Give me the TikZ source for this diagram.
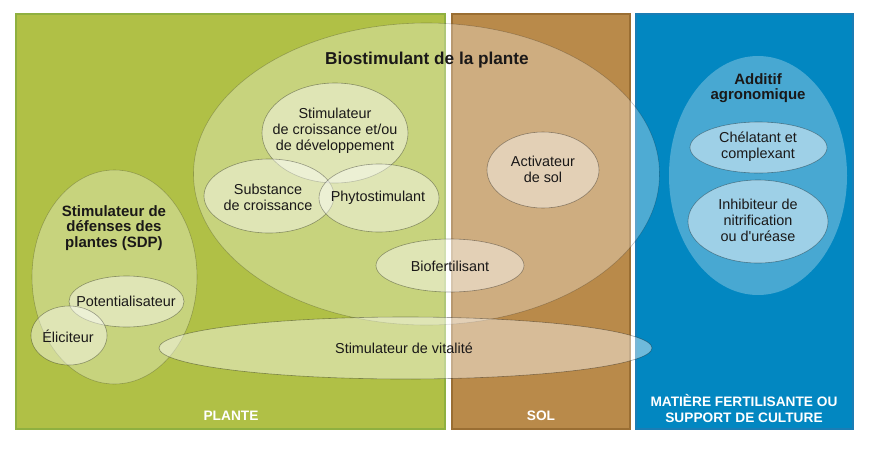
\documentclass[tikz,border=0pt]{standalone}
\usepackage{fontspec}
\setmainfont{Liberation Sans}[Ligatures=TeXOff]
\usetikzlibrary{shapes.geometric}
\definecolor{plantefill}{HTML}{B0C046}
\definecolor{planteedge}{HTML}{8FB040}
\definecolor{solfill}{HTML}{B98A4A}
\definecolor{soledge}{HTML}{9A6E33}
\definecolor{bluefill}{HTML}{0287C1}
\definecolor{blueedge}{HTML}{1A7DB5}
\definecolor{txt}{HTML}{1A1818}
\tikzset{
  zone/.style={line width=2pt},
  halo/.style={fill=white, fill opacity=0.30, draw=black, draw opacity=0.22, line width=0.6pt},
  halonb/.style={fill=white, fill opacity=0.28, draw=none},
  inner/.style={fill=white, fill opacity=0.43, draw=black, draw opacity=0.35, line width=0.6pt},
  lbl/.style={text=txt, align=center, font=\fontsize{14.4}{16}\selectfont, inner sep=0pt},
  blbl/.style={text=txt, align=center, font=\fontsize{15}{15.6}\selectfont\bfseries, inner sep=0pt},
  zlbl/.style={text=white, align=center, font=\fontsize{13.7}{16}\selectfont\bfseries, inner sep=0pt},
}
\begin{document}
\begin{tikzpicture}[x=1pt,y=-1pt]
\useasboundingbox (0,0) rectangle (879,459);
% zones
\path[zone, fill=plantefill, draw=planteedge] (16,14) rectangle (445,429);
\path[zone, fill=solfill, draw=soledge] (452,14) rectangle (630,429);
\path[zone, fill=bluefill, draw=blueedge] (636,14) rectangle (853,429);
% big ellipses
\path[halo] (426.5,174) ellipse [x radius=233, y radius=151];
\path[halo] (114.5,277) ellipse [x radius=82.5, y radius=107];
\path[halonb] (758,175.5) ellipse [x radius=89, y radius=119.5];
% inner ellipses
\path[inner] (335,133) ellipse [x radius=73, y radius=50];
\path[inner] (269,196) ellipse [x radius=65, y radius=37];
\path[inner] (379,198) ellipse [x radius=60, y radius=34];
\path[inner] (450,265.5) ellipse [x radius=74, y radius=26.5];
\path[inner] (543,170) ellipse [x radius=56, y radius=38];
\path[inner] (126.5,301.5) ellipse [x radius=57.5, y radius=25.5];
\path[inner] (69,335.5) ellipse [x radius=38, y radius=29.5];
\path[inner] (405.5,348) ellipse [x radius=246.5, y radius=31];
\path[inner, fill opacity=0.47] (758.5,147.5) ellipse [x radius=68.5, y radius=25.5];
\path[inner, fill opacity=0.47] (758,221.5) ellipse [x radius=70, y radius=41.5];
% labels
\node[blbl, font=\fontsize{17.2}{18}\selectfont\bfseries] (bio) at (427,60) {Biostimulant de la plante};
\node[lbl] (scd) at (335,131) {Stimulateur\\de croissance et/ou\\de développement};
\node[lbl] (sub) at (268,197) {Substance\\de croissance};
\node[lbl] (phy) at (378,198) {Phytostimulant};
\node[lbl] (biof) at (450,266) {Biofertilisant};
\node[lbl] (act) at (543,169) {Activateur\\de sol};
\node[lbl] (vit) at (404,348) {Stimulateur de vitalité};
\node[blbl] (sdp) at (114,228) {Stimulateur de\\défenses des\\plantes (SDP)};
\node[lbl] (pot) at (126,301) {Potentialisateur};
\node[lbl] (eli) at (68,336) {Éliciteur};
\node[blbl] (add) at (758,88) {Additif\\agronomique};
\node[lbl] (che) at (758,147) {Chélatant et\\complexant};
\node[lbl] (inh) at (758,220) {Inhibiteur de\\nitrification\\ou d'uréase};
\node[zlbl] (pl) at (231,416) {PLANTE};
\node[zlbl] (so) at (541,416) {SOL};
\node[zlbl] (mf) at (744,408) {MATIÈRE FERTILISANTE OU\\SUPPORT DE CULTURE};
\end{tikzpicture}
\end{document}
